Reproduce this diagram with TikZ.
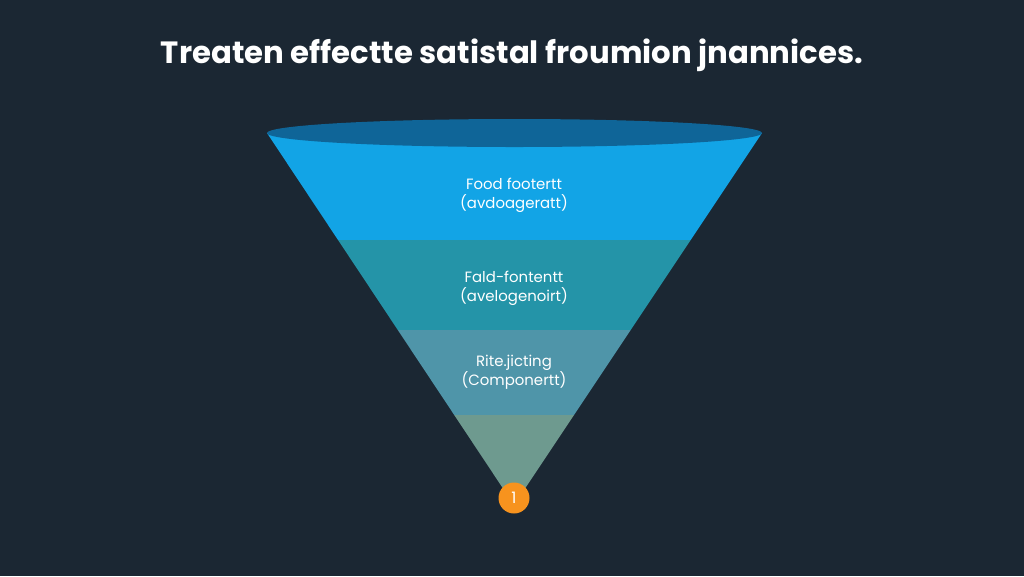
\documentclass[tikz,border=0pt]{standalone}
\usepackage{fontspec}
\setmainfont{Poppins}
\usepackage{xcolor}
\definecolor{bgdark}{HTML}{1B2733}
\definecolor{bandone}{HTML}{12A4E6}
\definecolor{bandtwo}{HTML}{2494A8}
\definecolor{bandthree}{HTML}{4F95A9}
\definecolor{bandfour}{HTML}{6E9A8F}
\definecolor{rimblue}{HTML}{0F6598}
\definecolor{stepamber}{HTML}{F7931E}

\begin{document}
\begin{tikzpicture}[x=0.02cm,y=-0.02cm,
	band/.style={align=center,text=white,font=\fontsize{8.5}{11}\selectfont}]

	% Background.
	\fill[bgdark] (0,0) rectangle (1024,576);
	\useasboundingbox (0,0) rectangle (1024,576);

	% Title.
	\node (title) at (512,55) {\color{white}\bfseries\fontsize{17.5}{20}\selectfont Treaten effectte satistal froumion jnannices.};

	% Funnel bands.
	\begin{scope}
		\clip (267,133) -- (762,133) -- (514,505) -- cycle;
		\fill[bandone]   (250,133) rectangle (780,240);
		\fill[bandtwo]   (250,240) rectangle (780,330);
		\fill[bandthree] (250,330) rectangle (780,415);
		\fill[bandfour]  (250,415) rectangle (780,510);
	\end{scope}
	\fill[rimblue] (514.5,133) ellipse [x radius=247.5, y radius=14];

	% Labels.
	\node[band] (food)  at (514,195) {Food footertt\\(avdoageratt)};
	\node[band] (fald)  at (514,288) {Fald-fontentt\\(avelogenoirt)};
	\node[band] (rite)  at (514,372) {Rite.jicting\\(Componertt)};

	% Step marker.
	\node[circle,fill=stepamber,minimum size=0.62cm,inner sep=0pt,text=white,
		font=\fontsize{9}{11}\selectfont] (step) at (514,498) {1};

\end{tikzpicture}
\end{document}
